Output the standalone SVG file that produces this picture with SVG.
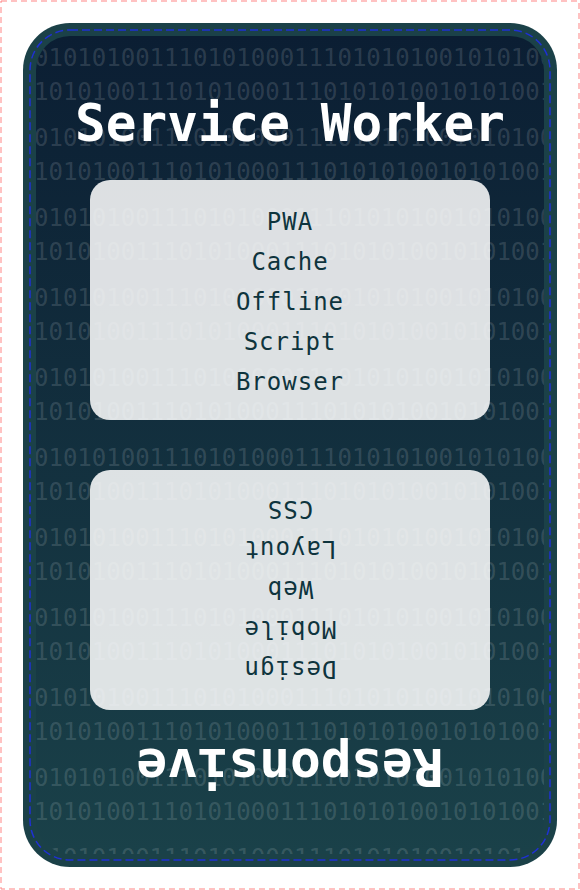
<svg xmlns="http://www.w3.org/2000/svg" width="580" height="890" viewBox="0 0 580 890">
  <defs>
    <linearGradient id="bgGrad" x1="0" y1="0" x2="0" y2="1">
      <stop offset="0" stop-color="#0b1e33"/>
      <stop offset="1" stop-color="#1a4149"/>
    </linearGradient>
    <clipPath id="innerClip">
      <rect x="36" y="36" width="508" height="818" rx="34" ry="34"/>
    </clipPath>
    <style>
      .bin { font-family: "DejaVu Sans Mono", "Liberation Mono", monospace; font-size: 24px; fill: #ffffff; fill-opacity: 0.14; }
      .title { font-family: "DejaVu Sans Mono", "Liberation Mono", monospace; font-size: 51px; font-weight: bold; fill: #ffffff; text-anchor: middle; }
      .box { fill: #ffffff; fill-opacity: 0.86; }
      .label { font-family: "DejaVu Sans Mono", "Liberation Mono", monospace; font-size: 24px; letter-spacing: 1px; fill: #0e343d; text-anchor: middle; }
    </style>
  </defs>

  <rect x="1" y="1" width="578" height="888" fill="none" stroke="#ff8585" stroke-width="1" stroke-dasharray="6 4"/>

  <g id="card">
    <rect x="23" y="23" width="534" height="844" rx="47" ry="47" fill="#1b4148"/>
    <rect x="36" y="36" width="508" height="818" rx="34" ry="34" fill="url(#bgGrad)"/>
    <g id="binary" clip-path="url(#innerClip)">
      <text class="bin" x="34" y="65.5">0101010011101010001110101010010101001</text>
      <text class="bin" x="34" y="99.5">101010011101010001110101010010101001</text>
      <text class="bin" x="34" y="145.5">0101010011101010001110101010010101001</text>
      <text class="bin" x="34" y="179.5">101010011101010001110101010010101001</text>
      <text class="bin" x="34" y="225.5">0101010011101010001110101010010101001</text>
      <text class="bin" x="34" y="259.5">101010011101010001110101010010101001</text>
      <text class="bin" x="34" y="305.5">0101010011101010001110101010010101001</text>
      <text class="bin" x="34" y="339.5">101010011101010001110101010010101001</text>
      <text class="bin" x="34" y="385.5">0101010011101010001110101010010101001</text>
      <text class="bin" x="34" y="419.5">101010011101010001110101010010101001</text>
      <text class="bin" x="34" y="465.5">0101010011101010001110101010010101001</text>
      <text class="bin" x="34" y="499.5">101010011101010001110101010010101001</text>
      <text class="bin" x="34" y="545.5">0101010011101010001110101010010101001</text>
      <text class="bin" x="34" y="579.5">101010011101010001110101010010101001</text>
      <text class="bin" x="34" y="625.5">0101010011101010001110101010010101001</text>
      <text class="bin" x="34" y="659.5">101010011101010001110101010010101001</text>
      <text class="bin" x="34" y="705.5">0101010011101010001110101010010101001</text>
      <text class="bin" x="34" y="739.5">101010011101010001110101010010101001</text>
      <text class="bin" x="34" y="785.5">0101010011101010001110101010010101001</text>
      <text class="bin" x="34" y="819.5">101010011101010001110101010010101001</text>
      <text class="bin" x="34" y="865.5">0101010011101010001110101010010101001</text>
    </g>
    <rect x="30" y="30" width="520" height="830" rx="40" ry="40" fill="none" stroke="#1f30d4" stroke-width="1.5" stroke-dasharray="8 4"/>
  </g>

  <g id="connectors"></g>

  <g id="title-top">
    <text class="title" x="290" y="141">Service Worker</text>
  </g>

  <g id="box-top">
    <rect class="box" x="90" y="180" width="400" height="240" rx="20" ry="20"/>
    <text class="label" x="290" y="229.5">PWA</text>
    <text class="label" x="290" y="269.5">Cache</text>
    <text class="label" x="290" y="309.5">Offline</text>
    <text class="label" x="290" y="349.5">Script</text>
    <text class="label" x="290" y="389.5">Browser</text>
  </g>

  <g id="box-bottom" transform="rotate(180 290 445)">
    <rect class="box" x="90" y="180" width="400" height="240" rx="20" ry="20"/>
    <text class="label" x="290" y="229.5">Design</text>
    <text class="label" x="290" y="269.5">Mobile</text>
    <text class="label" x="290" y="309.5">Web</text>
    <text class="label" x="290" y="349.5">Layout</text>
    <text class="label" x="290" y="389.5">CSS</text>
  </g>

  <g id="title-bottom" transform="rotate(180 290 445)">
    <text class="title" x="290" y="141">Responsive</text>
  </g>
</svg>
